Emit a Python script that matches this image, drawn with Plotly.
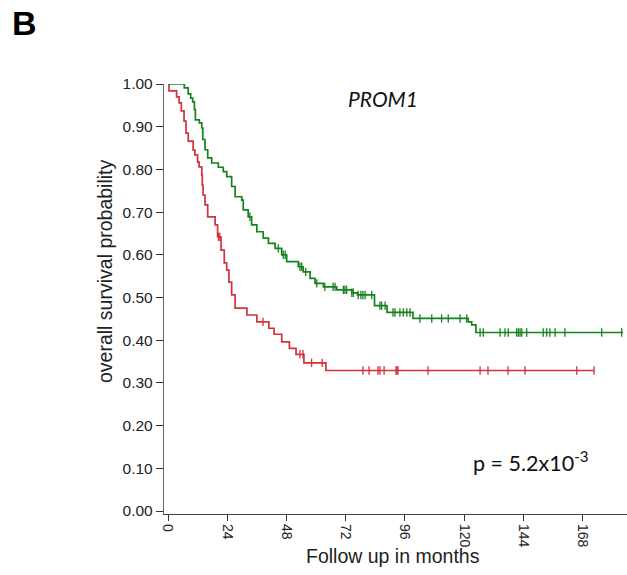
import numpy as np
import plotly.graph_objects as go

# Kaplan-Meier step data (months, survival probability)
red_time = [0, 0.4, 3.5, 4.5, 5.4, 6.5, 7.3, 8.2, 10.2, 10.9, 12.0, 12.6, 13.7, 13.9, 14.2,
            15.0, 16.1, 19.1, 20.1, 21.5, 22.8, 23.8, 24.7, 25.8, 27.2, 32.0, 36.0, 40.9,
            43.0, 46.1, 49.2, 51.9, 55.1, 64.0]
red_surv = [1.0, 0.984, 0.970, 0.956, 0.937, 0.913, 0.885, 0.866, 0.845, 0.834, 0.817, 0.806,
            0.787, 0.763, 0.740, 0.717, 0.689, 0.670, 0.642, 0.611, 0.581, 0.564, 0.536, 0.506,
            0.475, 0.459, 0.443, 0.428, 0.414, 0.396, 0.381, 0.367, 0.347, 0.329]
red_end = 172.7
red_censor = [20.5, 21.0, 38.5, 53.5, 54.7, 58.2, 62.5, 79.0, 81.5, 85.1, 85.9, 87.6, 92.4,
              92.8, 93.2, 105.4, 126.5, 129.7, 137.8, 144.7, 165.7, 172.7]

green_time = [0, 6.6, 8.2, 9.2, 10.0, 10.7, 11.1, 12.7, 13.7, 14.1, 15.0, 16.1, 17.7, 20.4,
              22.4, 23.8, 25.8, 27.2, 29.9, 30.5, 32.5, 33.9, 36.0, 38.6, 40.7, 43.4, 46.1,
              48.1, 52.8, 54.8, 57.6, 59.6, 63.0, 68.4, 74.5, 76.8, 83.7, 88.8, 99.3, 121.7,
              123.1, 124.8]
green_surv = [1.0, 0.991, 0.977, 0.967, 0.958, 0.94, 0.916, 0.909, 0.897, 0.87, 0.846, 0.827,
              0.815, 0.805, 0.795, 0.783, 0.76, 0.736, 0.728, 0.705, 0.689, 0.67, 0.654, 0.639,
              0.627, 0.615, 0.6, 0.584, 0.572, 0.56, 0.545, 0.533, 0.525, 0.518, 0.511, 0.506,
              0.481, 0.465, 0.451, 0.443, 0.436, 0.418]
green_end = 184.4
green_censor = [33.2, 44.7, 46.7, 47.5, 53.5, 54.2, 55.8, 60.3, 63.6, 66.9, 67.7, 71.1, 71.7,
                72.4, 74.5, 75.1, 77.1, 78.2, 79.0, 79.9, 82.6, 85.9, 86.6, 88.0, 91.2, 92.0,
                94.0, 95.4, 96.8, 98.1, 102.1, 106.9, 110.9, 113.6, 118.4, 121.1, 126.5, 127.8,
                134.6, 136.6, 137.9, 141.3, 142.0, 142.7, 143.4, 145.4, 152.1, 153.5, 154.8,
                156.9, 160.9, 175.8, 183.9]

x_ticks = [0, 24, 48, 72, 96, 120, 144, 168]
y_ticks = [0.0, 0.1, 0.2, 0.3, 0.4, 0.5, 0.6, 0.7, 0.8, 0.9, 1.0]

RED = "#d2323c"
GREEN = "#16821e"


def step_value(times, surv, t):
    idx = np.searchsorted(np.asarray(times), np.asarray(t), side="right") - 1
    return np.asarray(surv)[idx]


fig = go.Figure()

for times, surv, end, cens, col in [
    (red_time, red_surv, red_end, red_censor, RED),
    (green_time, green_surv, green_end, green_censor, GREEN),
]:
    fig.add_trace(go.Scatter(
        x=list(times) + [end], y=list(surv) + [surv[-1]],
        mode="lines", line=dict(color=col, width=1.7, shape="hv"),
        cliponaxis=False, showlegend=False, hoverinfo="skip",
    ))
    fig.add_trace(go.Scatter(
        x=cens, y=step_value(times, surv, cens),
        mode="markers",
        marker=dict(symbol="line-ns-open", size=6, color=col,
                    line=dict(color=col, width=1.3)),
        cliponaxis=False, showlegend=False, hoverinfo="skip",
    ))

axis_font = dict(family="Liberation Sans, Arial, sans-serif", color="#222")

# figure geometry in pixels
W, H = 627, 575
L, R, T, B = 164, 0, 84, 61
pw, ph = W - L - R, H - T - B


def px_to_paper(px, py):
    return (px - L) / pw, (H - B - py) / ph


def label(text, px, py, font, xanchor="center", angle=0):
    xp, yp = px_to_paper(px, py)
    return dict(text=text, x=xp, y=yp, xref="paper", yref="paper", showarrow=False,
                xanchor=xanchor, yanchor="middle", textangle=angle, font=font)


fig.update_layout(
    width=W, height=H,
    margin=dict(l=L, r=R, t=T, b=B),
    paper_bgcolor="white", plot_bgcolor="white",
    xaxis=dict(
        range=[-1.62, 186.05], tickvals=x_ticks, ticktext=[str(v) for v in x_ticks],
        tickangle=90, ticks="outside", ticklen=6, tickcolor="#333", tickwidth=1.2,
        showline=True, linecolor="#444", linewidth=1.4, showgrid=False, zeroline=False,
        tickfont=dict(size=14, **axis_font),
    ),
    yaxis=dict(
        range=[-0.007, 1.0], tickvals=y_ticks, ticktext=[f"{v:.2f}" for v in y_ticks],
        ticks="outside", ticklen=7, tickcolor="#333", tickwidth=1.2,
        showline=True, linecolor="#666", linewidth=1.4, showgrid=False, zeroline=False,
        tickfont=dict(size=15.5, **axis_font),
    ),
    annotations=[
        label("Follow up in months", 393, 556, dict(size=19.5, **axis_font)),
        label("overall survival probability", 105, 271, dict(size=19.5, **axis_font),
              angle=-90),
        label("<i>PROM1</i>", 383, 98,
              dict(size=21, family="Lato, sans-serif", color="#111")),
        label("p = 5.2x10<sup>-3</sup>", 471, 461,
              dict(size=21.5, family="Lato, sans-serif", color="#111"), xanchor="left"),
        label("<b>B</b>", 10, 23,
              dict(size=34, family="Liberation Sans, Arial, sans-serif", color="#000"),
              xanchor="left"),
    ],
)

fig.write_html("out.html")
